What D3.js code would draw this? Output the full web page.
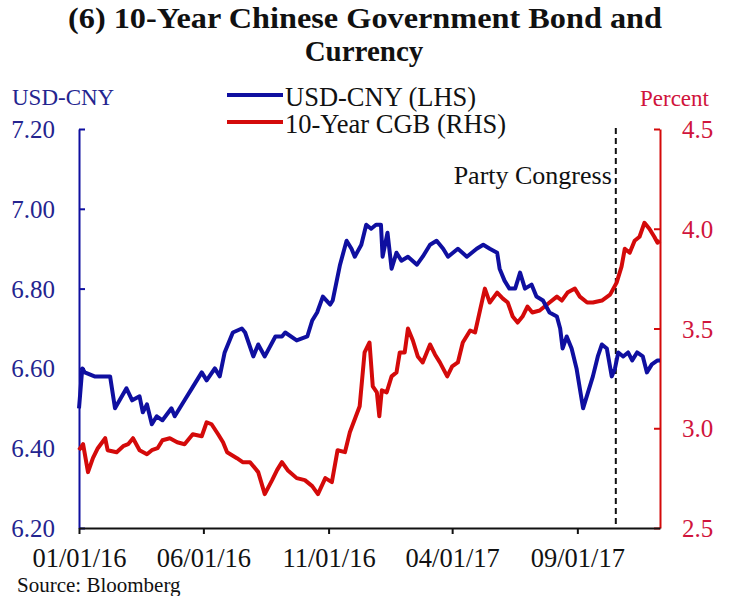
<!DOCTYPE html>
<html>
<head>
<meta charset="utf-8">
<script src="https://cdn.jsdelivr.net/npm/d3@7"></script>
<style>
  html, body { margin: 0; padding: 0; background: #fff; }
  svg { display: block; }
  text { font-family: "Liberation Serif", "Times New Roman", serif; }
</style>
</head>
<body>
<svg id="chart" width="729" height="596"></svg>
<script>
// USD-CNY spot rate (left axis)
const cnyDates = ["2016-01-01","2016-01-05","2016-01-08","2016-01-20","2016-02-08","2016-02-14","2016-02-28","2016-03-06","2016-03-15","2016-03-19","2016-03-24","2016-03-30","2016-04-05","2016-04-12","2016-04-23","2016-04-27","2016-05-09","2016-05-18","2016-05-30","2016-06-05","2016-06-15","2016-06-21","2016-06-27","2016-07-07","2016-07-18","2016-07-22","2016-08-01","2016-08-07","2016-08-15","2016-08-28","2016-09-05","2016-09-09","2016-09-23","2016-10-06","2016-10-12","2016-10-18","2016-10-25","2016-11-03","2016-11-06","2016-11-15","2016-11-23","2016-11-29","2016-12-03","2016-12-11","2016-12-17","2016-12-23","2016-12-29","2017-01-04","2017-01-06","2017-01-12","2017-01-17","2017-01-23","2017-01-29","2017-02-06","2017-02-17","2017-02-24","2017-03-05","2017-03-13","2017-03-21","2017-03-27","2017-04-08","2017-04-19","2017-05-01","2017-05-09","2017-05-17","2017-05-26","2017-05-29","2017-06-04","2017-06-10","2017-06-17","2017-06-23","2017-06-29","2017-07-07","2017-07-13","2017-07-21","2017-07-29","2017-08-07","2017-08-11","2017-08-14","2017-08-19","2017-08-25","2017-08-31","2017-09-08","2017-09-14","2017-09-20","2017-09-26","2017-10-01","2017-10-07","2017-10-13","2017-10-17","2017-10-21","2017-10-27","2017-11-02","2017-11-07","2017-11-13","2017-11-20","2017-11-25","2017-12-01","2017-12-08","2017-12-11"];
const cnyValues = [6.50,6.60,6.59,6.58,6.58,6.50,6.55,6.52,6.53,6.49,6.51,6.46,6.48,6.47,6.50,6.48,6.52,6.55,6.59,6.57,6.60,6.58,6.64,6.69,6.70,6.69,6.63,6.66,6.63,6.68,6.68,6.69,6.67,6.68,6.72,6.74,6.78,6.76,6.77,6.86,6.92,6.90,6.88,6.91,6.96,6.95,6.96,6.96,6.88,6.94,6.85,6.89,6.87,6.88,6.86,6.88,6.91,6.92,6.90,6.88,6.90,6.88,6.90,6.91,6.90,6.89,6.85,6.82,6.80,6.80,6.84,6.80,6.81,6.78,6.77,6.74,6.73,6.70,6.65,6.68,6.65,6.60,6.50,6.54,6.58,6.63,6.66,6.65,6.58,6.60,6.64,6.63,6.64,6.62,6.64,6.63,6.59,6.61,6.62,6.62];

// 10-year China government bond yield, percent (right axis)
const cgbDates = ["2016-01-01","2016-01-06","2016-01-12","2016-01-18","2016-01-24","2016-02-02","2016-02-05","2016-02-16","2016-02-24","2016-03-01","2016-03-07","2016-03-15","2016-03-24","2016-03-30","2016-04-06","2016-04-12","2016-04-21","2016-04-30","2016-05-09","2016-05-19","2016-05-30","2016-06-05","2016-06-11","2016-06-19","2016-06-25","2016-06-30","2016-07-12","2016-07-19","2016-07-28","2016-08-07","2016-08-15","2016-08-24","2016-08-30","2016-09-05","2016-09-12","2016-09-23","2016-10-03","2016-10-12","2016-10-19","2016-10-28","2016-11-05","2016-11-12","2016-11-21","2016-11-27","2016-12-09","2016-12-15","2016-12-21","2016-12-25","2016-12-30","2017-01-02","2017-01-05","2017-01-11","2017-01-17","2017-01-23","2017-01-27","2017-02-02","2017-02-06","2017-02-12","2017-02-18","2017-02-24","2017-03-05","2017-03-11","2017-03-17","2017-03-26","2017-04-01","2017-04-08","2017-04-14","2017-04-23","2017-04-29","2017-05-05","2017-05-11","2017-05-17","2017-05-26","2017-06-02","2017-06-08","2017-06-14","2017-06-20","2017-06-26","2017-07-02","2017-07-08","2017-07-17","2017-07-29","2017-08-07","2017-08-13","2017-08-20","2017-08-29","2017-09-04","2017-09-13","2017-09-20","2017-10-01","2017-10-11","2017-10-19","2017-10-25","2017-10-29","2017-11-04","2017-11-10","2017-11-16","2017-11-22","2017-11-28","2017-12-04","2017-12-08","2017-12-11"];
const cgbValues = [2.89,2.92,2.78,2.85,2.90,2.95,2.89,2.88,2.91,2.92,2.95,2.89,2.87,2.89,2.90,2.94,2.95,2.93,2.92,2.97,2.96,3.03,3.02,2.97,2.93,2.88,2.85,2.83,2.83,2.78,2.67,2.74,2.79,2.83,2.79,2.75,2.74,2.71,2.67,2.75,2.73,2.89,2.88,2.98,3.11,3.38,3.43,3.21,3.18,3.06,3.19,3.18,3.26,3.28,3.38,3.38,3.50,3.44,3.36,3.33,3.42,3.37,3.33,3.26,3.31,3.33,3.43,3.49,3.48,3.59,3.70,3.63,3.68,3.65,3.63,3.56,3.53,3.56,3.61,3.58,3.59,3.63,3.66,3.64,3.68,3.70,3.66,3.63,3.63,3.64,3.67,3.73,3.81,3.90,3.88,3.94,3.96,4.03,4.00,3.96,3.93,3.94];

const cnyTicks = [6.20, 6.40, 6.60, 6.80, 7.00, 7.20];
const cgbTicks = [2.5, 3.0, 3.5, 4.0, 4.5];
const dateTicks = ["2016-01-01","2016-06-01","2016-11-01","2017-04-01","2017-09-01"];
const xDomain = ["2016-01-01","2017-12-11"];
const eventDate = "2017-10-18";
const eventLabel = "Party Congress";

const titleLines = ["(6) 10-Year Chinese Government Bond and", "Currency"];
const seriesNames = ["USD-CNY (LHS)", "10-Year CGB (RHS)"];

const BLUE = "#0f0fa0", BLUE_TXT = "#24248f";
const RED = "#d40a0a", RED_TXT = "#d0143c";

const parse = d3.timeParse("%Y-%m-%d");
const svg = d3.select("#chart");

const m = { left: 79, right: 660, top: 129, bottom: 528 };

const x = d3.scaleTime().domain(xDomain.map(parse)).range([m.left, m.right]);
const yL = d3.scaleLinear().domain([6.20, 7.20]).range([m.bottom, m.top]);
const yR = d3.scaleLinear().domain([2.5, 4.5]).range([m.bottom, m.top]);

// Title (first line stretched to the wide heading width)
const title = svg.append("g");
title.append("text")
  .attr("x", 68).attr("y", 28)
  .attr("textLength", 594).attr("lengthAdjust", "spacingAndGlyphs")
  .attr("font-size", 29).attr("font-weight", "bold").attr("fill", "#111")
  .text(titleLines[0]);
title.append("text")
  .attr("x", 364).attr("y", 61)
  .attr("text-anchor", "middle")
  .attr("font-size", 29).attr("font-weight", "bold").attr("fill", "#111")
  .text(titleLines[1]);

// Axis titles
svg.append("text").attr("x", 12).attr("y", 105)
  .attr("font-size", 23).attr("fill", BLUE_TXT).text("USD-CNY");
svg.append("text").attr("x", 640).attr("y", 106)
  .attr("font-size", 23).attr("fill", RED_TXT).text("Percent");

// Left axis
const gL = svg.append("g").attr("transform", `translate(${m.left},0)`)
  .call(d3.axisRight(yL).tickValues(cnyTicks).tickFormat(d3.format(".2f")).tickSize(6).tickSizeOuter(0));
gL.select(".domain").attr("stroke", BLUE).attr("stroke-width", 2);
gL.selectAll(".tick line").attr("stroke", BLUE).attr("stroke-width", 2);
gL.selectAll(".tick text").attr("x", -24).attr("dy", "0.34em").attr("text-anchor", "end")
  .attr("font-size", 25).attr("font-family", "Liberation Serif, serif").attr("fill", BLUE_TXT);

// Right axis
const gR = svg.append("g").attr("transform", `translate(${m.right},0)`)
  .call(d3.axisLeft(yR).tickValues(cgbTicks).tickFormat(d3.format(".1f")).tickSize(6).tickSizeOuter(0));
gR.select(".domain").attr("stroke", RED).attr("stroke-width", 2);
gR.selectAll(".tick line").attr("stroke", RED).attr("stroke-width", 2);
gR.selectAll(".tick text").attr("x", 22).attr("dy", "0.34em").attr("text-anchor", "start")
  .attr("font-size", 25).attr("font-family", "Liberation Serif, serif").attr("fill", RED_TXT);

// Bottom axis
const gX = svg.append("g").attr("transform", `translate(0,${m.bottom})`)
  .call(d3.axisBottom(x).tickValues(dateTicks.map(parse)).tickFormat(d3.timeFormat("%m/%d/%y")).tickSize(6).tickSizeOuter(0));
gX.select(".domain").attr("stroke", "#111").attr("stroke-width", 2);
gX.selectAll(".tick line").attr("stroke", "#111").attr("stroke-width", 2);
gX.selectAll(".tick text").attr("y", 20).attr("dy", "0.71em")
  .attr("font-size", 26.5).attr("font-family", "Liberation Serif, serif").attr("fill", "#111");

// Event marker
const ex = x(parse(eventDate));
svg.append("line").attr("x1", ex).attr("x2", ex).attr("y1", m.top - 1).attr("y2", m.bottom)
  .attr("stroke", "#111").attr("stroke-width", 2).attr("stroke-dasharray", "6,4");
svg.append("text").attr("x", ex - 4).attr("y", 184).attr("text-anchor", "end")
  .attr("font-size", 26).attr("fill", "#111").text(eventLabel);

// Series
const cny = cnyDates.map((d, i) => ({ date: parse(d), v: cnyValues[i] }));
const cgb = cgbDates.map((d, i) => ({ date: parse(d), v: cgbValues[i] }));

svg.append("path").datum(cgb)
  .attr("fill", "none").attr("stroke", RED).attr("stroke-width", 4)
  .attr("stroke-linejoin", "round")
  .attr("d", d3.line().x(d => x(d.date)).y(d => yR(d.v)));

svg.append("path").datum(cny)
  .attr("fill", "none").attr("stroke", BLUE).attr("stroke-width", 4)
  .attr("stroke-linejoin", "round")
  .attr("d", d3.line().x(d => x(d.date)).y(d => yL(d.v)));

// Legend
const legend = svg.append("g");
const legendColors = [BLUE, RED];
seriesNames.forEach((name, i) => {
  const ly = 95 + i * 27;
  legend.append("line").attr("x1", 227).attr("x2", 283).attr("y1", ly).attr("y2", ly)
    .attr("stroke", legendColors[i]).attr("stroke-width", 4);
  legend.append("text").attr("x", 285).attr("y", ly + 11)
    .attr("font-size", 26.5).attr("fill", "#111").text(name);
});

// Source note
svg.append("text").attr("x", 17).attr("y", 592)
  .attr("font-size", 21).attr("fill", "#111").text("Source: Bloomberg");
</script>
</body>
</html>
